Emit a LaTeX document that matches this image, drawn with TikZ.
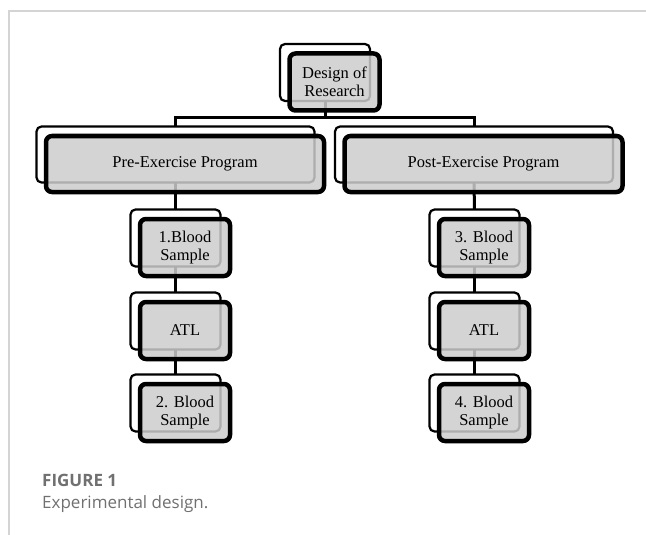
\documentclass[tikz,border=0pt]{standalone}
\usepackage{fontspec}
\setmainfont{Liberation Serif}
\newfontfamily\capfont{Open Sans}
\definecolor{boxgray}{RGB}{204,204,204}
\definecolor{framegray}{RGB}{212,212,212}
\definecolor{capgray}{RGB}{112,112,112}
\tikzset{
  back/.style={draw=black, line width=2.2pt, rounded corners=5pt, inner sep=0pt, outer sep=0pt},
  front/.style={draw=black, line width=4.5pt, rounded corners=6pt, inner sep=0pt, outer sep=0pt,
    fill=boxgray, fill opacity=0.85, text opacity=1, align=center,
    font=\fontsize{16.5}{17.5}\selectfont},
  wide/.style={minimum width=278pt, minimum height=56pt},
  small/.style={minimum width=90pt, minimum height=57pt},
  link/.style={line width=3pt}
}
\begin{document}
\begin{tikzpicture}[x=1pt,y=-1pt]
      \useasboundingbox (0,0) rectangle (646,535);
      \draw[framegray, line width=1.3pt] (9,535) -- (9,11) -- (646,11);
      % back outlines
      \node[back, small] (db) at (325,72.5) {};
      \node[back, wide] (preb) at (175.5,154.5) {};
      \node[back, wide] (postb) at (474,154.5) {};
      \node[back, small] (l1b) at (175.5,238) {};
      \node[back, small] (l2b) at (175.5,321) {};
      \node[back, small] (l3b) at (175.5,403) {};
      \node[back, small] (r1b) at (474.5,238) {};
      \node[back, small] (r2b) at (474.5,321) {};
      \node[back, small] (r3b) at (474.5,403) {};
      \coordinate (bar) at (0,118);
      \begin{scope}[link]
        \draw (db.south) -- (db.south |- bar);
        \draw (preb.north) |- (bar -| db.south) -| (postb.north);
        \draw (preb.south) -- (l1b.north);
        \draw (l1b.south) -- (l2b.north);
        \draw (l2b.south) -- (l3b.north);
        \draw (postb.south) -- (r1b.north);
        \draw (r1b.south) -- (r2b.north);
        \draw (r2b.south) -- (r3b.north);
      \end{scope}
      % front boxes
      \node[front, small] (d) at (334.5,82) {Design of\\Research};
      \node[front, wide] (pre) at (185,164) {Pre-Exercise Program};
      \node[front, wide] (post) at (483.5,164) {Post-Exercise Program};
      \node[front, small] (l1) at (185,247.5) {1.Blood\\Sample};
      \node[front, small] (l2) at (185,330.5) {ATL};
      \node[front, small] (l3) at (185,412.5) {2. Blood\\Sample};
      \node[front, small] (r1) at (484,247.5) {3. Blood\\Sample};
      \node[front, small] (r2) at (484,330.5) {ATL};
      \node[front, small] (r3) at (484,412.5) {4. Blood\\Sample};
      % caption
      \node[anchor=base west, inner sep=0pt, text=capgray, font=\capfont\bfseries\fontsize{17}{20}\selectfont] (fig) at (42,486) {FIGURE 1};
      \node[anchor=base west, inner sep=0pt, text=capgray, font=\capfont\fontsize{17}{20}\selectfont] (cap) at (42,508) {Experimental design.};
    \end{tikzpicture}
\end{document}
